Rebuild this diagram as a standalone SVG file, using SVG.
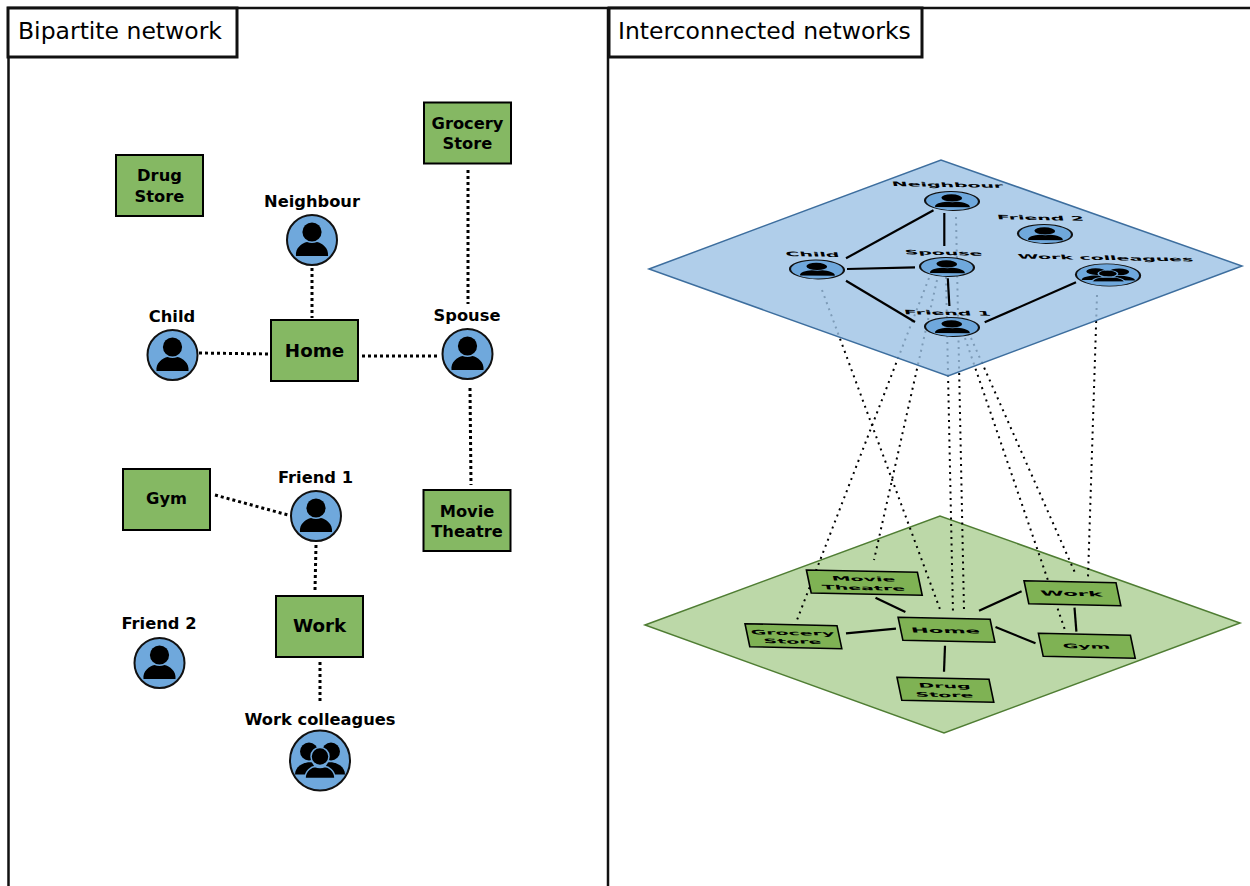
<svg xmlns="http://www.w3.org/2000/svg" width="1250" height="886" viewBox="0 0 1250 886">
<style>
text{font-family:"DejaVu Sans",sans-serif;fill:#000}
.b{font-weight:bold;font-size:16.300px;text-anchor:middle}
.h{font-weight:bold;font-size:18.300px;text-anchor:middle}
.t{font-size:23.500px}
.box{fill:#85b863;stroke:#000;stroke-width:2}
.sbox{fill:#7fb254;stroke:#000;stroke-width:1.600;vector-effect:non-scaling-stroke}
.frame{fill:none;stroke:#111;stroke-width:2.500}
.title{fill:#fff;stroke:#111;stroke-width:3}
.dot{fill:none;stroke:#000;stroke-width:3;stroke-dasharray:3 3}
.sdot{fill:none;stroke:#000;stroke-width:2;stroke-dasharray:2 4.500}
.sol{fill:none;stroke:#000;stroke-width:2.200}
</style>
<defs>
<g id="person">
<circle r="25" fill="#6fa8dc" stroke="#111" stroke-width="2"/>
<circle cy="-8" r="9.600" fill="#000"/>
<path d="M-16,16C-17,8-10,3-5,2Q0,4 5,2C10,3 17,8 16,16Z" fill="#000"/>
</g>
<g id="group">
<circle r="30" fill="#6fa8dc" stroke="#111" stroke-width="2"/>
<circle cx="-11" cy="-9" r="9" fill="#000"/>
<circle cx="11" cy="-9" r="9" fill="#000"/>
<path d="M-25,14C-25,6-16,1-8,2L-2,12-10,14Z" fill="#000"/>
<path d="M25,14C25,6 16,1 8,2L2,12 10,14Z" fill="#000"/>
<circle cy="-4" r="9" fill="#000" stroke="#6fa8dc" stroke-width="1.500"/>
<path d="M-15,18C-15,10-8,6-5,6Q0,8 5,6C8,6 15,10 15,18Z" fill="#000" stroke="#6fa8dc" stroke-width="1.500"/>
</g>
<rect id="sb" width="87" height="61" class="sbox"/>
</defs>
<rect width="1250" height="886" fill="#fff"/>

<g id="panels">
<path class="frame" d="M8.500,886V8H1250M608,8V886"/>
<g id="title-bipartite"><rect class="title" x="8" y="8" width="229" height="49"/><text class="t" x="18" y="39">Bipartite network</text></g>
<g id="title-interconnected"><rect class="title" x="609" y="8" width="313" height="49"/><text class="t" x="618" y="39">Interconnected networks</text></g>
</g>

<polygon id="plane-places" points="645,625 940,516 1240,623 944,733" fill="#bcd8a8" stroke="#4f7d33" stroke-width="1.500"/>

<g id="connectors-interlayer">
<path class="sdot" d="M822,290L941,612"/>
<path class="sdot" d="M929,278L797,620"/>
<path class="sdot" d="M937,280L874,560"/>
<path class="sdot" d="M946,277L953,613"/>
<path class="sdot" d="M956,217L964,610"/>
<path class="sdot" d="M965,338L1066,633"/>
<path class="sdot" d="M971,338L1076,575"/>
<path class="sdot" d="M1097,295L1088,577"/>
</g>

<polygon id="plane-people" points="649,269 941,160 1242,266 948,376" fill="#9cc2e5" fill-opacity=".8" stroke="#3d6e9e" stroke-width="1.500"/>

<g id="connectors">
<path class="dot" d="M312,268V318"/>
<path class="dot" d="M199,353L271,354"/>
<path class="dot" d="M362,356H440"/>
<path class="dot" d="M468,170V304"/>
<path class="dot" d="M470,388L471,485"/>
<path class="dot" d="M215,495L288,515"/>
<path class="dot" d="M316,545L315,590"/>
<path class="dot" d="M320,662V702"/>
<path class="sol" d="M846,258.300L933.500,210.300"/>
<path class="sol" d="M944.300,213V246"/>
<path class="sol" d="M847,269L915,267.300"/>
<path class="sol" d="M846,280.700L915,322"/>
<path class="sol" d="M947.800,278.300L949.400,306"/>
<path class="sol" d="M984.700,322.300L1076,282.300"/>
<path class="sol" d="M875.500,597.700L905.400,612"/>
<path class="sol" d="M846,633.300L896,628.700"/>
<path class="sol" d="M945,645.700L944,671.700"/>
<path class="sol" d="M995.500,627L1035.500,643.300"/>
<path class="sol" d="M979,610.700L1021.600,591.300"/>
<path class="sol" d="M1074.500,607.700L1076.400,631.700"/>
</g>

<g id="bp-grocery"><rect class="box" x="424" y="102.500" width="87" height="61"/><text class="b" x="467.500" y="129">Grocery</text><text class="b" x="467.500" y="149">Store</text></g>
<g id="bp-drug"><rect class="box" x="116" y="155" width="87" height="61"/><text class="b" x="159.500" y="181">Drug</text><text class="b" x="159.500" y="202">Store</text></g>
<g id="bp-home"><rect class="box" x="271" y="320" width="87" height="61"/><text class="h" x="314.500" y="357">Home</text></g>
<g id="bp-gym"><rect class="box" x="123" y="469" width="87" height="61"/><text class="b" x="166.500" y="504">Gym</text></g>
<g id="bp-movie"><rect class="box" x="423.500" y="490" width="87" height="61"/><text class="b" x="467" y="517">Movie</text><text class="b" x="467" y="537">Theatre</text></g>
<g id="bp-work"><rect class="box" x="276" y="596" width="87" height="61"/><text class="h" x="319.500" y="632">Work</text></g>
<g id="bp-neighbour"><use href="#person" x="312" y="240"/><text class="b" x="312" y="207">Neighbour</text></g>
<g id="bp-child"><use href="#person" x="172.500" y="355"/><text class="b" x="172" y="322">Child</text></g>
<g id="bp-spouse"><use href="#person" x="467.500" y="354"/><text class="b" x="467" y="321">Spouse</text></g>
<g id="bp-friend1"><use href="#person" x="316" y="516"/><text class="b" x="315.500" y="483">Friend 1</text></g>
<g id="bp-friend2"><use href="#person" x="159.500" y="663"/><text class="b" x="159" y="629">Friend 2</text></g>
<g id="bp-colleagues"><use href="#group" x="320" y="760.500"/><text class="b" x="320" y="725">Work colleagues</text></g>

<g id="il-neighbour"><use href="#person" transform="matrix(1.08,0.01,0.03,0.38,952,201)"/><text class="b" transform="matrix(1.16,0.02,0.09,0.38,948,187)">Neighbour</text></g>
<g id="il-friend2"><use href="#person" transform="matrix(1.08,0.01,0.03,0.38,1045,234)"/><text class="b" transform="matrix(1.16,0.02,0.09,0.38,1041,220)">Friend 2</text></g>
<g id="il-child"><use href="#person" transform="matrix(1.08,0.01,0.03,0.38,817,269.500)"/><text class="b" transform="matrix(1.16,0.02,0.09,0.38,813,256.500)">Child</text></g>
<g id="il-spouse"><use href="#person" transform="matrix(1.08,0.01,0.03,0.38,947,267)"/><text class="b" transform="matrix(1.16,0.02,0.09,0.38,944,255)">Spouse</text></g>
<g id="il-friend1"><use href="#person" transform="matrix(1.08,0.01,0.03,0.38,952,327)"/><text class="b" transform="matrix(1.16,0.02,0.09,0.38,948,315)">Friend 1</text></g>
<g id="il-colleagues"><use href="#group" transform="matrix(1.07,0.01,0.03,0.37,1108,275)"/><text class="b" transform="matrix(1.16,0.02,0.09,0.38,1106,260)">Work colleagues</text></g>

<g id="il-movie"><use href="#sb" transform="matrix(1.276,0.026,0.0787,0.377,806.400,570)"/><text class="b" transform="matrix(1.16,0.02,0.09,0.38,864,581)">Movie</text><text class="b" transform="matrix(1.16,0.02,0.09,0.38,864,590)">Theatre</text></g>
<g id="il-home"><use href="#sb" transform="matrix(1.0575,0.023,0.0787,0.377,898.100,617.300)"/><text class="h" transform="matrix(1.16,0.02,0.09,0.38,946,633)">Home</text></g>
<g id="il-grocery"><use href="#sb" transform="matrix(1.0575,0.023,0.0787,0.377,745,623.700)"/><text class="b" transform="matrix(1.16,0.02,0.09,0.38,793,635)">Grocery</text><text class="b" transform="matrix(1.16,0.02,0.09,0.38,793,643.500)">Store</text></g>
<g id="il-work"><use href="#sb" transform="matrix(1.0575,0.023,0.0787,0.377,1024,580.700)"/><text class="h" transform="matrix(1.16,0.02,0.09,0.38,1072,596)">Work</text></g>
<g id="il-gym"><use href="#sb" transform="matrix(1.0575,0.023,0.0787,0.377,1038.400,633.300)"/><text class="b" transform="matrix(1.16,0.02,0.09,0.38,1087,648.500)">Gym</text></g>
<g id="il-drug"><use href="#sb" transform="matrix(1.0575,0.023,0.0787,0.377,897,677.300)"/><text class="b" transform="matrix(1.16,0.02,0.09,0.38,945,688)">Drug</text><text class="b" transform="matrix(1.16,0.02,0.09,0.38,945,697)">Store</text></g>
</svg>
